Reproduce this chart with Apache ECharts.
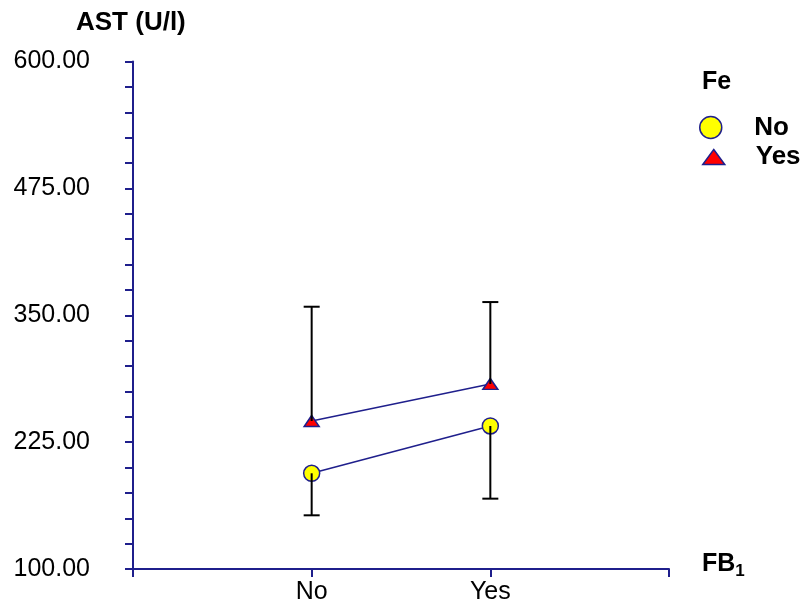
<!DOCTYPE html>
<html>
<head>
<meta charset="utf-8">
<script src="https://cdn.jsdelivr.net/npm/echarts@6/dist/echarts.min.js"></script>
<style>html,body{margin:0;padding:0;background:#fff}#c{width:804px;height:610px}</style>
</head>
<body>
<div id="c"></div>
<script>
// ---- data ----
const categories = ['No', 'Yes'];          // FB1 levels
const groupNames = ['No', 'Yes'];          // Fe levels
const feNoMean   = [194.3, 240.9];
const feNoLower  = [152.9, 169.3];         // error bar end (downwards)
const feYesMean  = [245.8, 282.3];
const feYesUpper = [358.4, 363.0];         // error bar end (upwards)
const yTicks = [100, 225, 350, 475, 600];

const NAVY = '#1f1f8c';
const FONT = 'Liberation Sans, Arial, sans-serif';

const chart = echarts.init(document.getElementById('c'));

function pairs(vals) { return vals.map((v, i) => [i + 1, v]); }
function errData(mean, end) { return mean.map((v, i) => [i + 1, v, end[i]]); }

function errRender(params, api) {
  const x = api.value(0);
  const p0 = api.coord([x, api.value(1)]);
  const p1 = api.coord([x, api.value(2)]);
  const half = 8;
  return {
    type: 'group',
    children: [
      { type: 'line', shape: { x1: p0[0], y1: p0[1], x2: p1[0], y2: p1[1] }, style: { stroke: '#000', lineWidth: 2 } },
      { type: 'line', shape: { x1: p1[0] - half, y1: p1[1], x2: p1[0] + half, y2: p1[1] }, style: { stroke: '#000', lineWidth: 2 } }
    ]
  };
}

const legendText = { fontSize: 26, fontWeight: 'bold', color: '#000', fontFamily: FONT, padding: [0, 0, 0, 26] };

const option = {
  animation: false,
  backgroundColor: '#fff',
  textStyle: { fontFamily: FONT },
  grid: { left: 133, right: 135, top: 61.5, bottom: 41, containLabel: false },
  xAxis: {
    type: 'value', min: 0, max: categories.length + 1, interval: 1,
    axisLine: { lineStyle: { color: NAVY, width: 2 } },
    axisTick: { show: true, length: 8, inside: false, lineStyle: { color: NAVY, width: 2 } },
    axisLabel: {
      margin: 11, fontSize: 25, color: '#000', fontFamily: FONT,
      formatter: v => categories[v - 1] || ''
    },
    splitLine: { show: false }
  },
  yAxis: {
    type: 'value', min: yTicks[0], max: yTicks[yTicks.length - 1],
    interval: yTicks[1] - yTicks[0],
    axisLine: { show: true, lineStyle: { color: NAVY, width: 2 } },
    axisTick: { show: true, length: 8, lineStyle: { color: NAVY, width: 2 } },
    minorTick: { show: true, splitNumber: 5, length: 8, lineStyle: { color: NAVY, width: 2 } },
    axisLabel: { margin: 43, fontSize: 25, color: '#000', fontFamily: FONT, formatter: v => v.toFixed(2) },
    splitLine: { show: false }
  },
  legend: [
    {
      orient: 'vertical', left: 699, top: 114.5, padding: 0, itemWidth: 25, itemHeight: 22,
      textStyle: legendText,
      data: [{ name: groupNames[0], icon: 'circle', itemStyle: { color: '#ffff00', borderColor: NAVY, borderWidth: 1.5 } }]
    },
    {
      orient: 'vertical', left: 702, top: 144, padding: 0, itemWidth: 22, itemHeight: 15,
      textStyle: legendText,
      data: [{ name: groupNames[1], icon: 'triangle', itemStyle: { color: '#ff0000', borderColor: NAVY, borderWidth: 1.5 } }]
    }
  ],
  graphic: [
    { type: 'text', left: 76, top: 10, style: { text: 'AST (U/l)', font: 'bold 26px ' + FONT, fill: '#000' } },
    { type: 'text', left: 702, top: 70, style: { text: 'Fe', font: 'bold 25px ' + FONT, fill: '#000' } },
    { type: 'text', left: 702, top: 552, style: {
        text: '{a|FB}{b|1}', fill: '#000',
        rich: { a: { font: 'bold 25px ' + FONT, fill: '#000' }, b: { font: 'bold 17px ' + FONT, fill: '#000', padding: [13, 0, 0, 0] } }
    } }
  ],
  series: [
    {
      name: groupNames[0], type: 'line', data: pairs(feNoMean), z: 3,
      symbol: 'circle', symbolSize: 16, symbolKeepAspect: false,
      lineStyle: { color: NAVY, width: 1.5 },
      itemStyle: { color: '#ffff00', borderColor: NAVY, borderWidth: 1.5 }
    },
    {
      name: groupNames[1], type: 'line', data: pairs(feYesMean), z: 3,
      symbol: 'triangle', symbolSize: [15, 11], symbolKeepAspect: false,
      lineStyle: { color: NAVY, width: 1.5 },
      itemStyle: { color: '#ff0000', borderColor: NAVY, borderWidth: 1.5 }
    },
    { type: 'custom', renderItem: errRender, data: errData(feNoMean, feNoLower), z: 5, encode: { x: 0, y: [1, 2] } },
    { type: 'custom', renderItem: errRender, data: errData(feYesMean, feYesUpper), z: 5, encode: { x: 0, y: [1, 2] } }
  ]
};
chart.setOption(option);
</script>
</body>
</html>
